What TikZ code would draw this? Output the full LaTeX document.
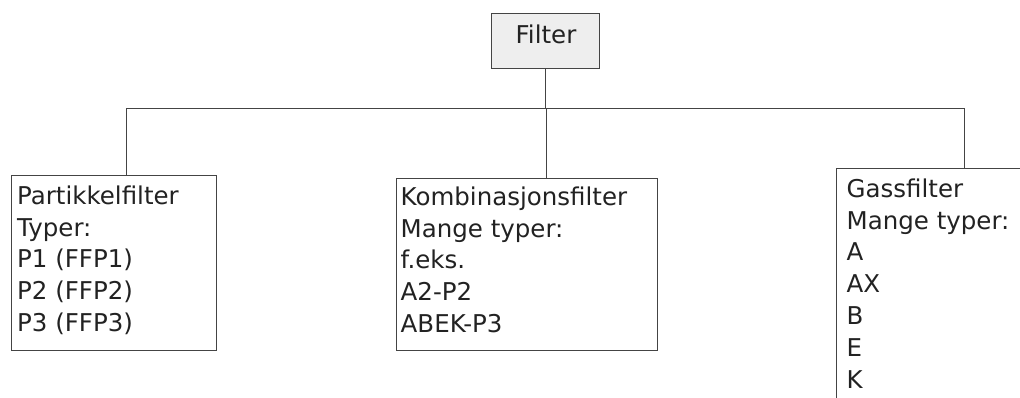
\documentclass[tikz,border=0pt]{standalone}
\usepackage{fontspec}
\setmainfont{DejaVu Sans}
\definecolor{linec}{HTML}{444444}
\definecolor{textc}{HTML}{222222}
\definecolor{boxfill}{HTML}{EEEEEE}
\begin{document}
\begin{tikzpicture}[x=1pt,y=-1pt,
  boxstyle/.style={draw=linec, line width=1pt, rectangle, inner sep=0pt, anchor=north west},
  txtstyle/.style={text=textc, inner sep=0pt, align=left, anchor=north west,
    font=\fontsize{24.5}{31.8}\selectfont},
  wire/.style={draw=linec, line width=1pt}]
\useasboundingbox (0,0) rectangle (1020,397);
\clip (0,0) rectangle (1020,397);
% boxes
\node[boxstyle, fill=boxfill, minimum width=108pt, minimum height=55pt] (filter) at (491,13) {};
\node[boxstyle, minimum width=205pt, minimum height=175pt] (pb) at (11,175) {};
\node[boxstyle, minimum width=261pt, minimum height=172pt] (kb) at (396,178) {};
\node[boxstyle, minimum width=250pt, minimum height=260pt] (gb) at (836,168) {};
% texts
\node[text=textc, inner sep=0pt, anchor=base, font=\fontsize{24.5}{31.8}\selectfont] (ft) at (546,43) {Filter};
\node[txtstyle] (pt) at (17,184) {\rule{0pt}{20pt}Partikkelfilter\\Typer:\\P1 (FFP1)\\P2 (FFP2)\\P3 (FFP3)};
\node[txtstyle] (kt) at (400.5,185) {\rule{0pt}{20pt}Kombinasjonsfilter\\Mange typer:\\f.eks.\\A2-P2\\ABEK-P3};
\node[txtstyle] (gt) at (846.5,177) {\rule{0pt}{20pt}Gassfilter\\Mange typer:\\A\\AX\\B\\E\\K};
% bus
\coordinate (bl) at (126,108);
\coordinate (bm) at (546,108);
\coordinate (br) at (964,108);
\draw[wire] (filter.south) -- (filter.south |- bm);
\draw[wire] (bl |- pb.north) -- (bl) -- (br) -- (br |- gb.north);
\draw[wire] (bm) -- (bm |- kb.north);
\end{tikzpicture}
\end{document}
